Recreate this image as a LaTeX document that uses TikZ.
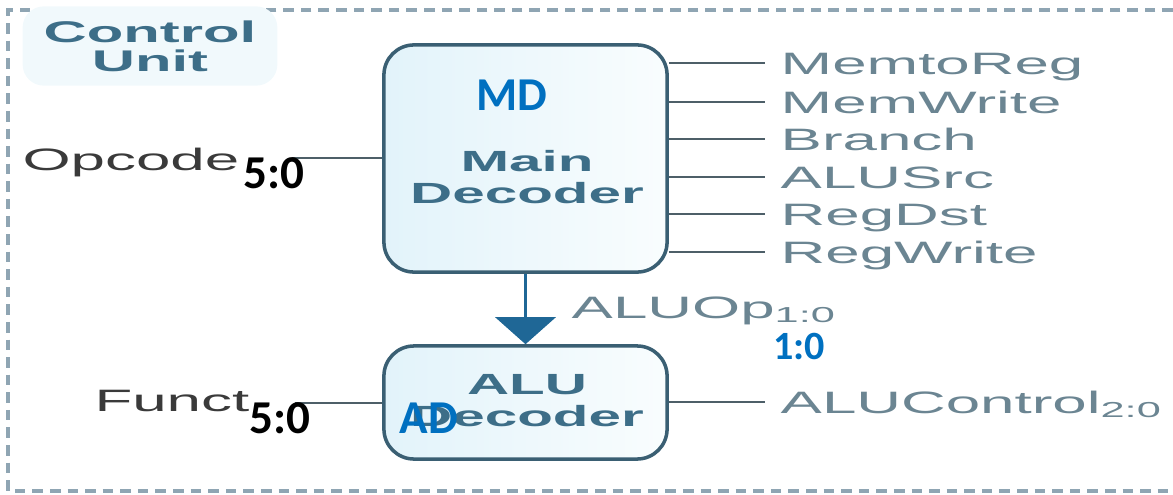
\documentclass[tikz,border=0pt]{standalone}
\usepackage{fontspec}
\setmainfont{Liberation Sans}
\newfontfamily\calib{Carlito}
\usetikzlibrary{arrows.meta}
\definecolor{boxline}{HTML}{3A5F73}
\definecolor{boxleft}{HTML}{E2F3FA}
\definecolor{boxright}{HTML}{F9FDFE}
\definecolor{wirecol}{HTML}{4D5F68}
\definecolor{sigtext}{HTML}{6B8592}
\definecolor{nametext}{HTML}{3D6E88}
\definecolor{darktext}{HTML}{3A3A3A}
\definecolor{tagblue}{HTML}{0070C0}
\definecolor{arrowcol}{HTML}{1F6796}
\definecolor{bordercol}{HTML}{8FA5B3}
\definecolor{glow}{HTML}{F1F9FC}
\newcommand{\wide}[1]{\scalebox{2}[1]{#1}}
\tikzset{
  border/.style={draw=bordercol, dash pattern=on 3pt off 2pt, line width=0.9pt},
  block/.style={draw=boxline, line width=1pt, rounded corners=0.3cm, minimum width=2.83cm, left color=boxleft, right color=boxright},
  wire/.style={draw=wirecol, line width=0.7pt},
  sig/.style={text=sigtext, font=\fontsize{8.8}{10}\selectfont, anchor=west, inner xsep=0.15cm, inner ysep=0pt, text height=6.3pt, text depth=0pt},
  blockname/.style={text=nametext, font=\fontsize{8.3}{9.1}\selectfont\bfseries, align=center, inner sep=0pt},
  inlab/.style={text=darktext, font=\fontsize{8.8}{10}\selectfont, anchor=east, inner sep=0pt, text height=6.3pt, text depth=0pt},
  bits/.style={font=\calib\fontsize{13.4}{15}\selectfont\bfseries, text=black, inner sep=0pt},
  tag/.style={font=\calib\fontsize{13.4}{15}\selectfont\bfseries, text=tagblue, inner sep=0pt},
  flow/.style={draw=arrowcol, line width=1.1pt, -{Triangle[width=0.6cm,length=0.27cm]}}
}
\begin{document}
\begin{tikzpicture}[x=0.01cm, y=-0.01cm]
  \useasboundingbox (0,0) rectangle (1173,494);
  \draw[border] (1173,10) -- (8,10) -- (8,491) -- (1173,491);

  % control unit title
  \node[fill=glow, rounded corners=6pt, inner xsep=6pt, inner ysep=4pt, text=nametext, align=center,
        font=\fontsize{8.5}{8.3}\selectfont\bfseries] (cu) at (150,46) {\wide{Control}\\\wide{Unit}};

  % decoders
  \node[block, minimum height=2.27cm] (md) at (525.5,158.5) {};
  \node[block, minimum height=1.13cm] (ad) at (525.5,402.5) {};
  \node[blockname] (mdname) at (527,177) {\wide{Main}\\\wide{Decoder}};
  \node[blockname] (adname) at (527,401) {\wide{ALU}\\\wide{Decoder}};

  \foreach \y/\s in {63/MemtoReg, 102/MemWrite, 139/Branch, 177/ALUSrc, 214/RegDst, 252/RegWrite} {
    \node[sig] (\s) at (765,\y) {\wide{\s}};
    \draw[wire] (md.east |- \s.west) -- (\s.west);
  }

  \draw[flow] (md) -- (ad);
  \node[sig] (aluop) at (556,307) {\wide{ALUOp\textsubscript{1:0}}};

  \node[sig] (aluctl) at (765,402) {\wide{ALUControl\textsubscript{2:0}}};
  \draw[wire] (ad.east |- aluctl.west) -- (aluctl.west);

  % inputs
  \node[inlab] (opcode) at (240,159) {\wide{Opcode}};
  \coordinate (opin) at (292,158);
  \draw[wire] (opin) -- (md.west |- opin);
  \node[inlab] (funct) at (250,400) {\wide{Funct}};
  \coordinate (fnin) at (295,403);
  \draw[wire] (fnin) -- (ad.west |- fnin);

  % added tags
  \node[bits] (opbits) at (274,173) {5:0};
  \node[bits] (fnbits) at (280,418) {5:0};
  \node[tag] (mdtag) at (512,95) {MD};
  \node[tag] (adtag) at (429,418) {AD};
  \node[tag, font=\calib\fontsize{11.4}{13}\selectfont\bfseries] (optag) at (799,346) {1:0};
\end{tikzpicture}
\end{document}
